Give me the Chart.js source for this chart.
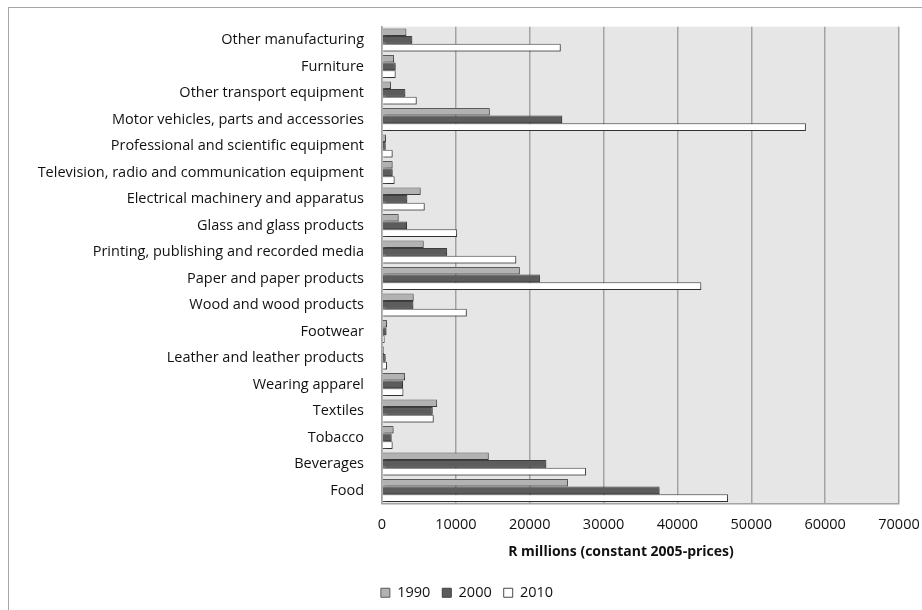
<!DOCTYPE html>
<html lang="en">
<head>
  <meta charset="UTF-8">
  <title>Manufacturing output</title>
  <style>
    body {
      margin: 0;
      padding: 0;
      background-color: #ffffff;
    }
    #wrap {
      width: 922px;
      height: 610px;
    }
  </style>
</head>
<body>
  <div id="wrap">
    <canvas id="outputChart" width="922" height="610"></canvas>
  </div>

  <script src="https://cdn.jsdelivr.net/npm/chart.js"></script>
  <script>
    // sectors, top to bottom as in the picture
    const sectors = [
      'Other manufacturing',
      'Furniture',
      'Other transport equipment',
      'Motor vehicles, parts and accessories',
      'Professional and scientific equipment',
      'Television, radio and communication equipment',
      'Electrical machinery and apparatus',
      'Glass and glass products',
      'Printing, publishing and recorded media',
      'Paper and paper products',
      'Wood and wood products',
      'Footwear',
      'Leather and leather products',
      'Wearing apparel',
      'Textiles',
      'Tobacco',
      'Beverages',
      'Food'
    ];

    // R millions, constant 2005 prices
    const y1990 = [3300, 1630, 1220, 14600, 540, 1440, 5240, 2260, 5650, 18670, 4290, 680, 270, 3120, 7460, 1570, 14460, 25180];
    const y2000 = [4100, 1850, 3160, 24400, 500, 1440, 3430, 3390, 8820, 21380, 4250, 600, 490, 2850, 6870, 1300, 22250, 37580];
    const y2010 = [24200, 1850, 4700, 57400, 1440, 1710, 5780, 10170, 18180, 43230, 11480, 350, 680, 2900, 7000, 1440, 27630, 46850];

    const xTicks = [0, 10000, 20000, 30000, 40000, 50000, 60000, 70000];
    const xTitle = 'R millions (constant 2005-prices)';

    const FONT = '"Open Sans", Lato, sans-serif';

    // grey plot area, outer frame, bar shadows, axis title
    const frame = {
      id: 'frame',
      beforeDraw(chart) {
        const ctx = chart.ctx;
        const a = chart.chartArea;
        ctx.save();
        ctx.fillStyle = '#e6e6e6';
        ctx.fillRect(a.left, a.top, a.right - a.left, a.bottom - a.top);
        ctx.strokeStyle = '#a6a6a6';
        ctx.lineWidth = 1;
        ctx.strokeRect(8.5, 7.5, 930, 620);
        ctx.restore();
      },
      beforeDatasetsDraw(chart) {
        const ctx = chart.ctx;
        ctx.save();
        ctx.shadowColor = 'rgba(0,0,0,0.35)';
        ctx.shadowOffsetX = 1;
        ctx.shadowOffsetY = 1.5;
        ctx.shadowBlur = 1.5;
      },
      afterDatasetsDraw(chart) {
        chart.ctx.restore();
      },
      afterDraw(chart) {
        // the title sits a bit left of the plot centre in the original
        const ctx = chart.ctx;
        const xs = chart.scales.x;
        ctx.save();
        ctx.fillStyle = '#111';
        ctx.font = 'bold 14px ' + FONT;
        ctx.textAlign = 'center';
        ctx.textBaseline = 'middle';
        ctx.fillText(xTitle, 621, xs.top + 48);
        ctx.restore();
      }
    };

    const ctx = document.getElementById('outputChart').getContext('2d');

    new Chart(ctx, {
      type: 'bar',
      data: {
        labels: sectors,
        datasets: [
          {
            label: '1990',
            data: y1990,
            backgroundColor: '#b2b2b2',
            borderColor: '#5a5a5a',
            borderWidth: 1
          },
          {
            label: '2000',
            data: y2000,
            backgroundColor: '#5c5c5c',
            borderColor: '#3f3f3f',
            borderWidth: 1
          },
          {
            label: '2010',
            data: y2010,
            backgroundColor: '#ffffff',
            borderColor: '#4a4a4a',
            borderWidth: 1
          }
        ]
      },
      options: {
        indexAxis: 'y',
        responsive: false,
        animation: false,
        layout: {
          autoPadding: false,
          padding: { left: 35, top: 22, right: 23, bottom: 0 }
        },
        datasets: {
          bar: {
            categoryPercentage: 0.87,
            barPercentage: 1.0
          }
        },
        scales: {
          x: {
            min: 0,
            max: 70000,
            afterBuildTicks(scale) {
              scale.ticks = xTicks.map(v => ({ value: v }));
            },
            afterFit(scale) {
              // let the 70000 label hang over the edge like the original
              scale.paddingLeft = 0;
              scale.paddingRight = 0;
            },
            grid: {
              color: '#a3a3a3',
              lineWidth: 1.5,
              drawTicks: false
            },
            border: { display: true, color: '#a3a3a3', width: 1.5 },
            ticks: {
              padding: 12,
              color: '#111',
              font: { family: FONT, size: 14.5 },
              callback: v => String(v)
            },
            title: {
              display: true,
              text: xTitle,
              color: 'rgba(0,0,0,0)',
              font: { family: FONT, size: 14.5, weight: 'bold' },
              padding: { top: 9, bottom: 2 }
            }
          },
          y: {
            afterFit(scale) {
              scale.width = 347;
            },
            grid: { display: false, drawTicks: false },
            border: { display: true, color: '#a3a3a3', width: 1.5 },
            ticks: {
              padding: 18,
              autoSkip: false,
              color: '#111',
              font: { family: FONT, size: 14.5 }
            }
          }
        },
        plugins: {
          legend: {
            position: 'bottom',
            labels: {
              boxWidth: 9,
              boxHeight: 9,
              padding: 12,
              color: '#111',
              font: { family: FONT, size: 14.5 }
            }
          },
          tooltip: { enabled: false }
        }
      },
      plugins: [frame]
    });
  </script>
</body>
</html>
